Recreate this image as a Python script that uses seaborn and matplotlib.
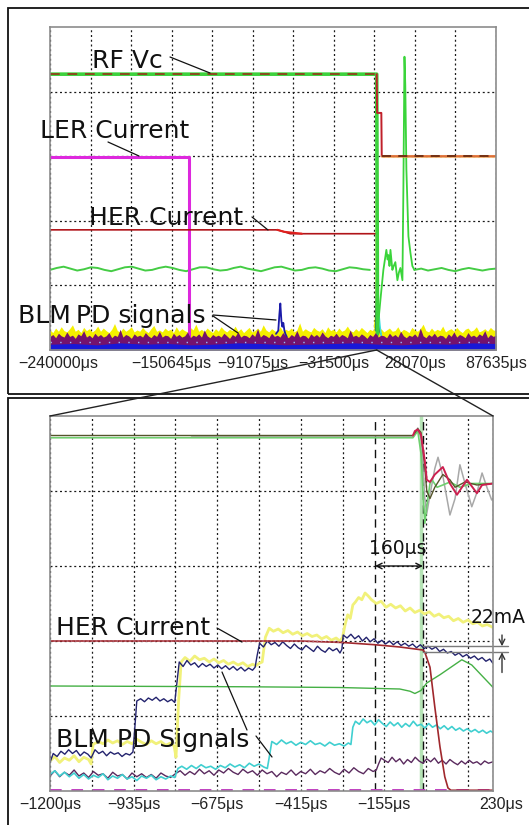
import numpy as np
import matplotlib
matplotlib.use("Agg")
import matplotlib.pyplot as plt
import seaborn as sns
from matplotlib.lines import Line2D
from matplotlib.patches import Rectangle, ConnectionPatch
from matplotlib.transforms import ScaledTranslation

W, H = 529, 825

# ---------- upper screen: time in us, y in screen divisions (0..5)
top_start, top_step, top_ngrid = -240000, 29785, 11
top_end = 87635
top_ticklabels = ["−240000μs", "", "", "−150645μs", "", "−91075μs", "",
                  "−31500μs", "", "28070μs", "", "87635μs"]

rf_green = [(-240000, 4.27), (0, 4.27), (600, 0.25)]
rf_dash = [(-240000, 4.27), (0, 4.27)]
rf_after = [(0, 4.27), (300, 3.67), (3400, 3.67), (3700, 3.0), (87635, 3.0)]
ler_top = [(-240000, 2.98), (-137700, 2.98), (-137700, 0.05)]
her_top = [(-240000, 1.86), (-73000, 1.86), (-68000, 1.83), (-63500, 1.80),
           (0, 1.80), (400, 0.05)]

green_wave_pre = [1.24, 1.27, 1.29, 1.26, 1.23, 1.25, 1.28, 1.27, 1.24, 1.22,
                  1.25, 1.28, 1.29, 1.26, 1.23, 1.24, 1.27, 1.29, 1.27, 1.24,
                  1.22, 1.25, 1.28, 1.28, 1.25, 1.23, 1.24, 1.27, 1.29, 1.26,
                  1.24, 1.22, 1.25, 1.28, 1.29, 1.26, 1.23, 1.24, 1.27, 1.28,
                  1.26, 1.23, 1.22, 1.25, 1.28, 1.27, 1.25, 1.24]
green_burst = [(-1000, 1.25), (0, 1.24), (400, 0.20), (1500, 0.50), (2700, 0.77),
               (4900, 1.24), (7100, 1.55), (8000, 1.40), (8600, 1.47), (9400, 1.30),
               (10100, 1.55), (11500, 1.24), (12500, 1.30), (13700, 1.36),
               (15200, 1.08), (16300, 1.20), (17400, 1.27), (18900, 1.08),
               (19600, 2.50), (20400, 4.54), (21000, 4.10), (21800, 2.80),
               (23300, 1.76), (24800, 1.50), (26200, 1.30), (27700, 1.24)]
green_wave_post = [1.24, 1.26, 1.23, 1.25, 1.27, 1.24, 1.22, 1.25, 1.27, 1.25,
                   1.23, 1.25, 1.26]

band_yellow = [0.31, 0.27, 0.34, 0.29, 0.36, 0.30, 0.28, 0.33, 0.39, 0.29,
               0.32, 0.27, 0.35, 0.30, 0.33, 0.28, 0.31, 0.37, 0.29, 0.34,
               0.30, 0.27, 0.32, 0.41, 0.30, 0.28, 0.34, 0.29, 0.32, 0.36,
               0.28, 0.31, 0.29, 0.35, 0.30, 0.27, 0.33, 0.38, 0.29, 0.31,
               0.28, 0.34, 0.30, 0.32, 0.27, 0.36, 0.29, 0.33, 0.30, 0.28,
               0.35, 0.31, 0.40, 0.29, 0.32, 0.28, 0.34, 0.30, 0.27, 0.33,
               0.29, 0.36, 0.31, 0.28, 0.32, 0.30, 0.37, 0.29, 0.33, 0.27,
               0.31, 0.35, 0.28, 0.30, 0.34, 0.29, 0.39, 0.31, 0.28, 0.33,
               0.30, 0.27, 0.36, 0.29, 0.32, 0.30, 0.34, 0.28, 0.31, 0.42,
               0.29, 0.33, 0.30, 0.28, 0.35, 0.31, 0.29, 0.33, 0.27, 0.36,
               0.30, 0.32, 0.28, 0.34, 0.29, 0.31, 0.37, 0.30, 0.28, 0.33,
               0.29, 0.35, 0.31, 0.27, 0.32, 0.30, 0.38, 0.29, 0.33, 0.28,
               0.31, 0.34, 0.29, 0.30, 0.36, 0.28, 0.32, 0.30, 0.27, 0.35,
               0.31, 0.29, 0.33, 0.40, 0.30, 0.28, 0.34, 0.29, 0.32, 0.30,
               0.37, 0.28, 0.31, 0.33, 0.29, 0.35, 0.30, 0.27, 0.32, 0.34,
               0.29, 0.31, 0.36, 0.28, 0.30, 0.33, 0.29, 0.35, 0.31, 0.30]
band_purple = [0.21, 0.24, 0.19, 0.26, 0.22, 0.20, 0.28, 0.21, 0.23, 0.18,
               0.25, 0.22, 0.30, 0.20, 0.23, 0.19, 0.26, 0.21, 0.24, 0.20,
               0.22, 0.27, 0.19, 0.23, 0.21, 0.32, 0.20, 0.24, 0.22, 0.18,
               0.25, 0.21, 0.23, 0.20, 0.27, 0.22, 0.19, 0.24, 0.21, 0.29,
               0.20, 0.23, 0.22, 0.18, 0.26, 0.21, 0.24, 0.20, 0.22, 0.28,
               0.19, 0.23, 0.21, 0.25, 0.20, 0.31, 0.22, 0.19, 0.24, 0.21,
               0.23, 0.20, 0.26, 0.22, 0.18, 0.24, 0.21, 0.28, 0.20, 0.23,
               0.22, 0.19, 0.25, 0.21, 0.33, 0.20, 0.24, 0.22, 0.19, 0.26,
               0.21, 0.23, 0.20, 0.27, 0.22, 0.19, 0.24, 0.21, 0.30, 0.20,
               0.23, 0.22, 0.18, 0.25, 0.21, 0.24, 0.20, 0.28, 0.22, 0.19,
               0.23, 0.21, 0.26, 0.20, 0.24, 0.22, 0.19, 0.31, 0.21, 0.23,
               0.20, 0.25, 0.22, 0.18, 0.24, 0.21, 0.27, 0.20, 0.23, 0.22,
               0.19, 0.26, 0.21, 0.24, 0.20, 0.29, 0.22, 0.19, 0.23, 0.21,
               0.25, 0.20, 0.34, 0.22, 0.19, 0.24, 0.21, 0.26, 0.20, 0.23,
               0.22, 0.18, 0.25, 0.21, 0.28, 0.20, 0.24, 0.22, 0.19, 0.27,
               0.21, 0.23, 0.20, 0.25, 0.22, 0.30, 0.19, 0.24, 0.21, 0.23]
band_blue = [0.09, 0.10, 0.08, 0.11, 0.09, 0.10, 0.08, 0.09, 0.11, 0.10,
             0.08, 0.09, 0.10, 0.11, 0.09, 0.08, 0.10, 0.09, 0.11, 0.10]

blm_blue_spike = [(-74000, 0.25), (-72300, 0.30), (-71500, 0.55), (-70800, 0.72),
                  (-70000, 0.45), (-69300, 0.36), (-68600, 0.42), (-67800, 0.30),
                  (-67100, 0.25), (-66000, 0.20)]
blm_yellow_spike = [(-1500, 0.35), (-300, 0.60), (0, 2.35), (300, 1.20),
                    (900, 0.50), (1800, 0.35)]
blm_teal_spike = [(-800, 0.30), (0, 1.05), (200, 0.90), (600, 0.50), (1200, 0.60),
                  (2000, 0.30), (3000, 0.25)]
blm_cyan_spike = [(0, 0.20), (300, 0.80), (900, 0.70), (1600, 0.55), (2500, 0.35),
                  (3500, 0.20), (5000, 0.15)]

# ---------- lower screen: zoom around the abort, time in us
bot_start, bot_step, bot_ngrid = -1200, 130, 10
bot_end = 178
bot_ticklabels = ["−1200μs", "", "−935μs", "", "−675μs", "", "−415μs", "",
                  "−155μs", "", "", "230μs"]
cursor_a, cursor_b, abort_line = -189, -40, -46

rf_b_red = [(-1200, 4.74), (-71, 4.74), (-65, 4.80), (-56, 4.82), (-46, 4.75),
            (-34, 4.40), (-28, 4.15), (-18, 4.12), (-3, 4.22), (22, 4.32),
            (44, 4.10), (66, 3.95), (97, 4.15), (128, 3.97), (144, 4.08), (178, 4.10)]
rf_b_gray = [(-760, 4.72), (-71, 4.72), (-56, 4.84), (-46, 4.70), (-40, 4.30),
             (-34, 3.90), (-28, 3.70), (-18, 3.95), (-3, 4.30), (7, 4.45),
             (22, 4.20), (44, 3.68), (60, 3.90), (75, 4.35), (91, 4.10),
             (112, 3.79), (128, 3.98), (144, 4.24), (159, 4.05), (174, 3.88), (178, 3.90)]
rf_b_green = [(-1200, 4.71), (-71, 4.71), (-56, 4.80), (-46, 4.50), (-40, 4.00),
              (-34, 3.57), (-28, 3.80), (-18, 4.10), (-12, 4.15), (4, 4.05),
              (22, 4.08), (44, 4.12), (75, 4.05), (112, 4.10), (178, 4.10)]
rf_b_olive = [(-1200, 4.74), (-71, 4.74), (-56, 4.83), (-46, 4.78), (-40, 4.55),
              (-34, 4.30), (-28, 4.00), (-18, 3.90), (-3, 4.05), (22, 4.22),
              (44, 4.15), (60, 4.05), (91, 4.12), (128, 4.08), (178, 4.10)]

her_b = [(-1200, 2.00), (-422, 2.00), (-289, 1.98), (-189, 1.95), (-112, 1.92),
         (-40, 1.88), (-34, 1.85), (-18, 1.65), (-3, 1.12), (13, 0.59),
         (28, 0.19), (38, 0.04), (47, 0.01), (178, 0.01)]
green_b = [(-1200, 1.40), (-600, 1.39), (-300, 1.38), (-112, 1.36), (-80, 1.33),
           (-65, 1.30), (-46, 1.34), (-28, 1.44), (13, 1.55), (81, 1.75),
           (112, 1.68), (174, 1.40), (178, 1.38)]
ler_b = [(-1200, 0.02), (178, 0.02)]

yellow_b = [(-1200, 0.40), (-1185, 0.46), (-1170, 0.38), (-1155, 0.44), (-1140, 0.41),
            (-1125, 0.47), (-1110, 0.39), (-1095, 0.45), (-1080, 0.42), (-1072, 0.36),
            (-1066, 0.62), (-1050, 0.66), (-1035, 0.63), (-1020, 0.68), (-1005, 0.64),
            (-990, 0.67), (-975, 0.62), (-960, 0.66), (-945, 0.63), (-930, 0.69),
            (-915, 0.65), (-900, 0.62), (-885, 0.67), (-870, 0.63), (-855, 0.66),
            (-840, 0.61), (-825, 0.64), (-814, 0.60), (-808, 0.45), (-800, 1.20),
            (-792, 1.72), (-780, 1.78), (-765, 1.73), (-750, 1.80), (-735, 1.75),
            (-720, 1.77), (-705, 1.72), (-690, 1.76), (-675, 1.71), (-660, 1.74),
            (-645, 1.69), (-630, 1.72), (-615, 1.68), (-600, 1.71), (-585, 1.66),
            (-570, 1.69), (-560, 1.67), (-550, 1.70), (-540, 1.72), (-530, 2.05),
            (-518, 2.17), (-505, 2.13), (-490, 2.16), (-475, 2.11), (-460, 2.14),
            (-445, 2.09), (-430, 2.12), (-415, 2.07), (-400, 2.10), (-385, 2.06),
            (-370, 2.08), (-355, 2.03), (-340, 2.06), (-325, 2.01), (-310, 2.04),
            (-298, 2.00), (-290, 2.05), (-282, 2.22), (-274, 2.35), (-266, 2.30),
            (-258, 2.48), (-250, 2.52), (-240, 2.58), (-230, 2.55), (-220, 2.64),
            (-210, 2.60), (-200, 2.55), (-185, 2.50), (-170, 2.53), (-155, 2.45),
            (-140, 2.49), (-125, 2.44), (-110, 2.47), (-95, 2.40), (-80, 2.44),
            (-65, 2.38), (-50, 2.41), (-35, 2.36), (-20, 2.39), (-5, 2.33),
            (10, 2.36), (25, 2.31), (40, 2.33), (55, 2.27), (70, 2.30),
            (85, 2.25), (100, 2.28), (115, 2.23), (130, 2.25), (145, 2.20),
            (160, 2.22), (178, 2.18)]
navy_b = [(-1200, 0.38), (-1190, 0.50), (-1178, 0.46), (-1166, 0.53), (-1154, 0.49),
          (-1142, 0.55), (-1130, 0.50), (-1118, 0.54), (-1106, 0.47), (-1094, 0.52),
          (-1082, 0.49), (-1072, 0.44), (-1060, 0.55), (-1048, 0.50), (-1036, 0.53),
          (-1024, 0.47), (-1012, 0.52), (-1000, 0.49), (-988, 0.51), (-976, 0.46),
          (-964, 0.50), (-952, 0.48), (-942, 0.52), (-936, 0.85), (-930, 1.20),
          (-918, 1.23), (-906, 1.19), (-894, 1.24), (-882, 1.21), (-870, 1.25),
          (-858, 1.20), (-846, 1.23), (-834, 1.19), (-822, 1.22), (-812, 1.18),
          (-805, 1.45), (-798, 1.72), (-786, 1.66), (-774, 1.74), (-762, 1.68),
          (-750, 1.71), (-738, 1.65), (-726, 1.70), (-714, 1.66), (-702, 1.69),
          (-690, 1.64), (-678, 1.68), (-666, 1.63), (-654, 1.67), (-642, 1.62),
          (-630, 1.66), (-618, 1.61), (-606, 1.65), (-594, 1.60), (-582, 1.64),
          (-570, 1.61), (-562, 1.65), (-556, 1.80), (-548, 1.97), (-536, 1.92),
          (-524, 2.00), (-512, 1.95), (-500, 1.98), (-488, 1.93), (-476, 1.99),
          (-464, 1.94), (-452, 1.90), (-440, 1.96), (-428, 1.91), (-416, 1.88),
          (-404, 1.94), (-392, 1.90), (-380, 1.86), (-368, 1.93), (-356, 1.88),
          (-344, 1.85), (-332, 1.91), (-320, 1.87), (-308, 1.90), (-298, 1.84),
          (-292, 1.89), (-288, 2.08), (-276, 2.04), (-264, 2.09), (-252, 2.03),
          (-240, 2.07), (-228, 2.00), (-216, 2.05), (-204, 1.99), (-192, 2.03),
          (-180, 1.97), (-168, 2.01), (-156, 1.96), (-144, 2.00), (-132, 1.95),
          (-120, 1.99), (-108, 1.94), (-96, 1.97), (-84, 1.93), (-72, 1.96),
          (-60, 1.91), (-48, 1.95), (-36, 1.90), (-24, 1.93), (-12, 1.89),
          (0, 1.92), (12, 1.86), (24, 1.89), (36, 1.84), (48, 1.86), (60, 1.81),
          (72, 1.84), (84, 1.79), (96, 1.82), (108, 1.77), (120, 1.80),
          (132, 1.75), (144, 1.78), (156, 1.73), (168, 1.76), (178, 1.70)]
cyan_b = [(-1200, 0.22), (-1185, 0.27), (-1170, 0.20), (-1155, 0.25), (-1140, 0.19),
          (-1125, 0.24), (-1110, 0.17), (-1095, 0.22), (-1080, 0.16), (-1065, 0.21),
          (-1050, 0.18), (-1035, 0.23), (-1020, 0.15), (-1005, 0.20), (-990, 0.17),
          (-975, 0.22), (-960, 0.16), (-945, 0.19), (-930, 0.14), (-915, 0.20),
          (-900, 0.17), (-885, 0.21), (-870, 0.15), (-855, 0.19), (-840, 0.16),
          (-825, 0.20), (-812, 0.18), (-802, 0.30), (-790, 0.33), (-775, 0.29),
          (-760, 0.34), (-745, 0.30), (-730, 0.35), (-715, 0.31), (-700, 0.33),
          (-685, 0.29), (-670, 0.34), (-655, 0.31), (-640, 0.36), (-625, 0.32),
          (-610, 0.35), (-595, 0.31), (-580, 0.37), (-565, 0.33), (-550, 0.36),
          (-535, 0.32), (-524, 0.30), (-518, 0.45), (-510, 0.66), (-495, 0.62),
          (-480, 0.68), (-465, 0.63), (-450, 0.66), (-435, 0.61), (-420, 0.65),
          (-405, 0.62), (-390, 0.67), (-375, 0.62), (-360, 0.64), (-345, 0.60),
          (-330, 0.65), (-315, 0.61), (-300, 0.63), (-285, 0.60), (-272, 0.64),
          (-264, 0.62), (-258, 0.85), (-250, 0.93), (-238, 0.89), (-226, 0.96),
          (-214, 0.91), (-202, 0.94), (-190, 0.88), (-178, 0.95), (-166, 0.90),
          (-154, 0.86), (-142, 0.92), (-130, 0.87), (-118, 0.91), (-106, 0.85),
          (-94, 0.90), (-82, 0.86), (-70, 0.93), (-58, 0.87), (-46, 0.89),
          (-34, 0.84), (-22, 0.90), (-10, 0.85), (2, 0.88), (14, 0.83),
          (26, 0.87), (38, 0.82), (50, 0.86), (62, 0.81), (74, 0.84), (86, 0.80),
          (98, 0.83), (110, 0.79), (122, 0.82), (134, 0.78), (146, 0.81),
          (158, 0.77), (170, 0.80), (178, 0.78)]
purple_b = [(-1200, 0.20), (-1185, 0.27), (-1170, 0.19), (-1155, 0.25), (-1140, 0.21),
            (-1125, 0.28), (-1110, 0.20), (-1095, 0.24), (-1080, 0.18), (-1065, 0.26),
            (-1050, 0.21), (-1035, 0.23), (-1020, 0.17), (-1005, 0.25), (-990, 0.20),
            (-975, 0.22), (-960, 0.16), (-945, 0.24), (-930, 0.19), (-915, 0.23),
            (-900, 0.18), (-885, 0.22), (-870, 0.17), (-855, 0.24), (-840, 0.20),
            (-825, 0.18), (-810, 0.23), (-795, 0.27), (-780, 0.21), (-765, 0.26),
            (-750, 0.22), (-735, 0.29), (-720, 0.23), (-705, 0.27), (-690, 0.21),
            (-675, 0.28), (-660, 0.24), (-645, 0.30), (-630, 0.25), (-615, 0.22),
            (-600, 0.29), (-585, 0.24), (-570, 0.27), (-555, 0.21), (-540, 0.28),
            (-525, 0.23), (-510, 0.26), (-495, 0.19), (-480, 0.25), (-465, 0.22),
            (-450, 0.28), (-435, 0.21), (-420, 0.26), (-405, 0.23), (-390, 0.29),
            (-375, 0.22), (-360, 0.27), (-345, 0.24), (-330, 0.30), (-315, 0.25),
            (-300, 0.22), (-285, 0.29), (-270, 0.24), (-255, 0.31), (-240, 0.26),
            (-225, 0.23), (-210, 0.30), (-195, 0.26), (-185, 0.28), (-178, 0.36),
            (-170, 0.44), (-160, 0.41), (-148, 0.38), (-136, 0.45), (-124, 0.39),
            (-112, 0.43), (-100, 0.36), (-88, 0.42), (-76, 0.38), (-64, 0.45),
            (-52, 0.40), (-40, 0.37), (-28, 0.43), (-16, 0.39), (-4, 0.44),
            (8, 0.37), (20, 0.41), (32, 0.36), (44, 0.42), (56, 0.38), (68, 0.35),
            (80, 0.40), (92, 0.36), (104, 0.41), (116, 0.37), (128, 0.39),
            (140, 0.35), (152, 0.40), (164, 0.37), (178, 0.39)]

# 22 mA gap on the HER current
her_gap_hi, her_gap_lo = 1.93, 1.85

# ---------------------------------------------------------------
sns.set_style("white")
plt.rcParams["font.family"] = ["DejaVu Sans"]
tick_font = ["Liberation Sans", "DejaVu Sans"]


def fx(x):
    return x / W


def fy(y):
    return 1 - y / H


def trace(ax, pts, color, lw=1.0, **kw):
    t, v = zip(*pts)
    sns.lineplot(x=list(t), y=list(v), ax=ax, color=color, linewidth=lw,
                 estimator=None, sort=False, legend=False, **kw)


def leader(x0, y0, x1, y1, color="#111111", lw=0.9):
    fig.add_artist(Line2D([fx(x0), fx(x1)], [fy(y0), fy(y1)],
                          transform=fig.transFigure, color=color, lw=lw))


def scope_axes(ax, xmin, xmax, ticks, labels):
    ax.set_xlim(xmin, xmax)
    ax.set_ylim(0, 5)
    ax.set_xticks(ticks)
    ax.set_xticklabels(labels, fontsize=11.5, family=tick_font, color="#222222")
    ax.set_yticks([1, 2, 3, 4])
    ax.set_yticklabels([])
    ax.tick_params(length=0, pad=4)
    ax.grid(True, color="#1a1a1a", linestyle=(0, (1.6, 2.2)), linewidth=0.9)
    ax.set_axisbelow(True)
    ax.set_xlabel("")
    ax.set_ylabel("")
    for sp in ax.spines.values():
        sp.set_color("#8c8c8c")
        sp.set_linewidth(1.2)


fig = plt.figure(figsize=(W / 100, H / 100), dpi=100)
fig.patch.set_facecolor("white")

ax_top = fig.add_axes([50 / W, 1 - 350 / H, 446 / W, 323 / H])
ax_bot = fig.add_axes([50 / W, 1 - 791 / H, 443 / W, 375 / H])

# ---------- upper screen
t_band_y = np.linspace(top_start, top_end, len(band_yellow))
t_band_p = np.linspace(top_start, top_end, len(band_purple))
t_band_b = np.linspace(top_start, top_end, len(band_blue))
ax_top.fill_between(t_band_y, 0, band_yellow, color="#f4f000", lw=0, zorder=2)
ax_top.fill_between(t_band_p, 0, band_purple, color="#74126e", lw=0, zorder=2.1)
ax_top.fill_between(t_band_b, 0, band_blue, color="#1818d8", lw=0, zorder=2.2)
ax_top.plot([top_start, top_end], [0.125, 0.125], color="#8fb8ff", lw=1,
            ls=(0, (1, 6)), zorder=2.3)

trace(ax_top, blm_blue_spike, "#1a1aa8", 1.3)
trace(ax_top, blm_yellow_spike, "#f0f000", 1.3)
trace(ax_top, blm_teal_spike, "#2e7d5a", 1.2)
trace(ax_top, blm_cyan_spike, "#3fe0e0", 1.2)

t_wave_pre = np.linspace(top_start, -5000, len(green_wave_pre))
t_wave_post = np.linspace(27700, top_end, len(green_wave_post))
trace(ax_top, list(zip(t_wave_pre, green_wave_pre)), "#45cc45", 1.4)
trace(ax_top, green_burst, "#3ad43a", 1.3)
trace(ax_top, list(zip(t_wave_post, green_wave_post)), "#45cc45", 1.4)

trace(ax_top, ler_top, "#dd28dd", 2.2)
trace(ax_top, her_top, "#b01419", 1.2)
trace(ax_top, [(-73000, 1.86), (-68000, 1.83), (-55000, 1.80)], "#e0201e", 1.5)

trace(ax_top, rf_green, "#3cd23c", 2.6)
trace(ax_top, rf_dash, "#8b4a1e", 1.4, linestyle=(0, (5, 4)))
trace(ax_top, rf_after, "#c0202a", 1.4)
trace(ax_top, rf_after[3:], "#f0a040", 2.2, alpha=0.6)
trace(ax_top, rf_after[3:], "#6b2b10", 1.3, linestyle=(0, (5, 4)))

top_ticks = top_start + top_step * np.arange(top_ngrid + 1)
scope_axes(ax_top, top_start, top_end, top_ticks, top_ticklabels)

# ---------- lower screen
trace(ax_bot, ler_b, "#c040c0", 1.4, linestyle=(0, (6, 5)))
trace(ax_bot, purple_b, "#5a2a5e", 1.0)
trace(ax_bot, cyan_b, "#40cfd0", 1.2)
trace(ax_bot, yellow_b, "#f1f17a", 2.0)
trace(ax_bot, navy_b, "#23236e", 1.0)
trace(ax_bot, green_b, "#45b045", 1.0)
trace(ax_bot, her_b, "#a0282d", 1.2)
trace(ax_bot, her_b[:3], "#c07080", 1.0, linestyle=(0, (1, 2)))

trace(ax_bot, rf_b_gray, "#a8a8a8", 1.1)
trace(ax_bot, rf_b_green, "#6fcf6f", 1.2)
trace(ax_bot, rf_b_olive, "#55552a", 1.0)
trace(ax_bot, [p for p in rf_b_red if p[0] <= -760], "#8a7a20", 1.6,
      linestyle=(0, (4, 3)))
trace(ax_bot, [p for p in rf_b_red if p[0] >= -760], "#cc2050", 1.4)

ax_bot.axvline(abort_line, color="#b5e3b5", lw=2.5, zorder=1.5)
ax_bot.axvline(cursor_a, color="#111111", lw=1.0, ls=(0, (6, 4)), zorder=1.6)
ax_bot.axvline(cursor_b, color="#111111", lw=1.0, ls=(0, (6, 4)), zorder=1.6)
ax_bot.annotate("", xy=(cursor_b, 3.0), xytext=(cursor_a, 3.0),
                arrowprops=dict(arrowstyle="<->", color="#111111", lw=1.0,
                                shrinkA=0, shrinkB=0))

gap_x0, gap_x1, gap_arrow = cursor_b, 225, 206
for lvl in (her_gap_hi, her_gap_lo):
    ax_bot.plot([gap_x0, gap_x1], [lvl, lvl], color="#7a7a7a", lw=1.0, clip_on=False)
ax_bot.annotate("", xy=(gap_arrow, her_gap_hi), xytext=(gap_arrow, 2.08),
                arrowprops=dict(arrowstyle="->", color="#333333", lw=1.0,
                                shrinkA=0, shrinkB=0), annotation_clip=False)
ax_bot.annotate("", xy=(gap_arrow, her_gap_lo), xytext=(gap_arrow, 1.58),
                arrowprops=dict(arrowstyle="->", color="#333333", lw=1.0,
                                shrinkA=0, shrinkB=0), annotation_clip=False)

bot_ticks = list(bot_start + bot_step * np.arange(bot_ngrid + 1)) + [bot_end]
scope_axes(ax_bot, bot_start, bot_end, bot_ticks, bot_ticklabels)

# nudge the end labels like the scope does
shift = ax_top.get_xticklabels()[0]
shift.set_transform(shift.get_transform() + ScaledTranslation(0.08, 0, fig.dpi_scale_trans))
shift = ax_bot.get_xticklabels()[-1]
shift.set_transform(shift.get_transform() + ScaledTranslation(0.08, 0, fig.dpi_scale_trans))

# ---------- frames, zoom connectors, annotations
fig.add_artist(Rectangle((fx(8), fy(394)), fx(540 - 8), (394 - 8) / H,
                         transform=fig.transFigure, fill=False, ec="#111111", lw=1.3))
fig.add_artist(Rectangle((fx(8), fy(835)), fx(540 - 8), (835 - 398) / H,
                         transform=fig.transFigure, fill=False, ec="#111111", lw=1.3))

for xb in (bot_start, bot_end):
    con = ConnectionPatch(xyA=(0, 0), coordsA="data", axesA=ax_top,
                          xyB=(xb, 5), coordsB="data", axesB=ax_bot,
                          color="#222222", lw=1.0)
    con.set_clip_on(False)
    fig.add_artist(con)

big = dict(fontsize=18, color="#111111", ha="left", va="baseline")
fig.text(fx(92), fy(68), "RF Vc", **big)
fig.text(fx(40), fy(138), "LER Current", **big)
fig.text(fx(89), fy(225), "HER Current", **big)
fig.text(fx(18), fy(323), "BLM\u2009PD signals", **big)
fig.text(fx(56), fy(635), "HER Current", **big)
fig.text(fx(56), fy(747), "BLM PD Signals", **big)
fig.text(fx(369), fy(554), "160μs", fontsize=13.5, color="#111111", ha="left", va="baseline")
fig.text(fx(471), fy(623), "22mA", fontsize=13.5, color="#111111", ha="left", va="baseline")

leader(170, 57, 210, 73)
leader(108, 142, 139, 156)
leader(252, 217, 268, 230)
leader(213, 315, 276, 320)
leader(213, 316, 238, 333)
leader(217, 628, 242, 642)
leader(222, 672, 247, 730)
leader(256, 736, 272, 757)

fig.savefig("out.png", dpi=100)
